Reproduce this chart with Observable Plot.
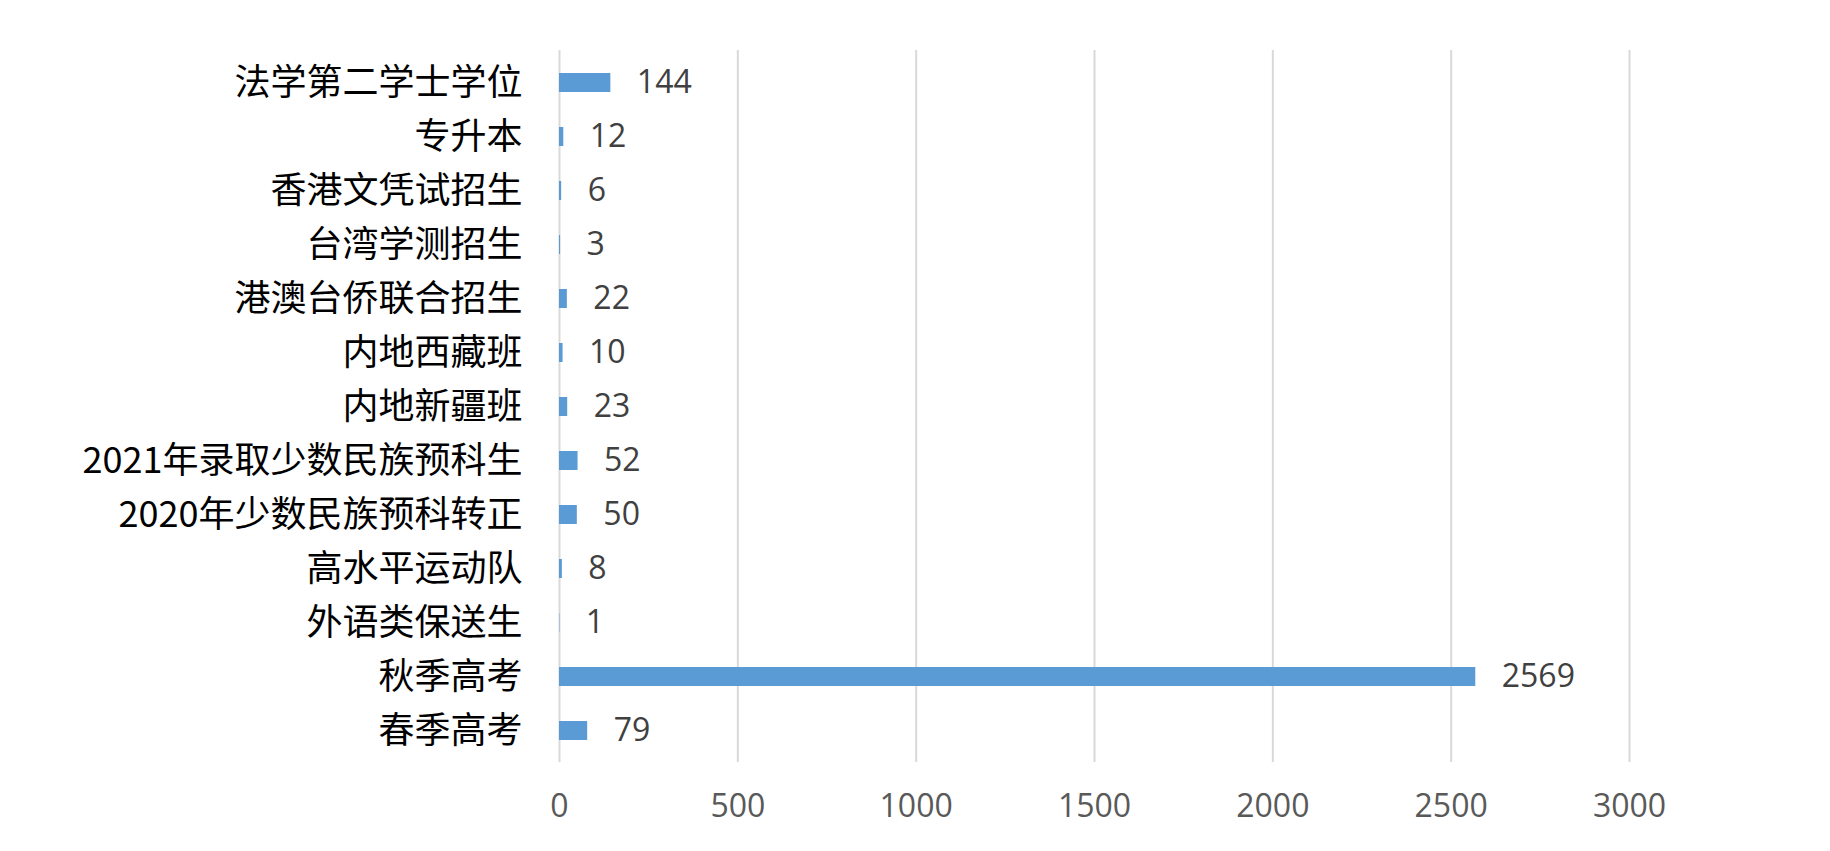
<!DOCTYPE html>
<html>
<head>
<meta charset="utf-8">
<script src="https://cdn.jsdelivr.net/npm/d3@7"></script>
<script src="https://cdn.jsdelivr.net/npm/@observablehq/plot@0.6"></script>
<style>
  html, body { margin: 0; padding: 0; background: #fff; }
  #chart svg { display: block; }
</style>
</head>
<body>
<div id="chart"></div>
<script>
const categories = ["法学第二学士学位", "专升本", "香港文凭试招生", "台湾学测招生", "港澳台侨联合招生", "内地西藏班", "内地新疆班", "2021年录取少数民族预科生", "2020年少数民族预科转正", "高水平运动队", "外语类保送生", "秋季高考", "春季高考"];
const values = [144, 12, 6, 3, 22, 10, 23, 52, 50, 8, 1, 2569, 79];
const xTicks = [0, 500, 1000, 1500, 2000, 2500, 3000];

const data = categories.map((c, i) => ({category: c, value: values[i]}));

const chart = Plot.plot({
  width: 1830,
  height: 851,
  marginLeft: 559,
  marginRight: 201,
  marginTop: 50,
  marginBottom: 89,
  style: {background: "#fff", overflow: "visible"},
  x: {domain: [0, 3000], ticks: xTicks},
  y: {domain: categories, paddingInner: 0.653, paddingOuter: 0.33},
  marks: [
    Plot.gridX(xTicks, {stroke: "#d9d9d9", strokeOpacity: 1, strokeWidth: 2}),
    Plot.barX(data, {x: "value", y: "category", fill: "#5b9bd5"}),
    Plot.text(data, {x: "value", y: "category", text: d => String(d.value), textAnchor: "start", dx: 26, fill: "#404040", fontSize: 32, fontFamily: "'Open Sans', 'Noto Sans', sans-serif"}),
    Plot.axisX({ticks: xTicks, tickSize: 0, tickPadding: 32, label: null, fontSize: 32, color: "#595959", fontFamily: "'Open Sans', 'Noto Sans', sans-serif", tickFormat: d => String(d)}),
    Plot.axisY({tickSize: 0, tickPadding: 37, label: null, fontSize: 36, color: "#000", fontFamily: "'Noto Sans CJK SC', 'Noto Sans', sans-serif"})
  ]
});
document.getElementById("chart").appendChild(chart);
</script>
</body>
</html>
